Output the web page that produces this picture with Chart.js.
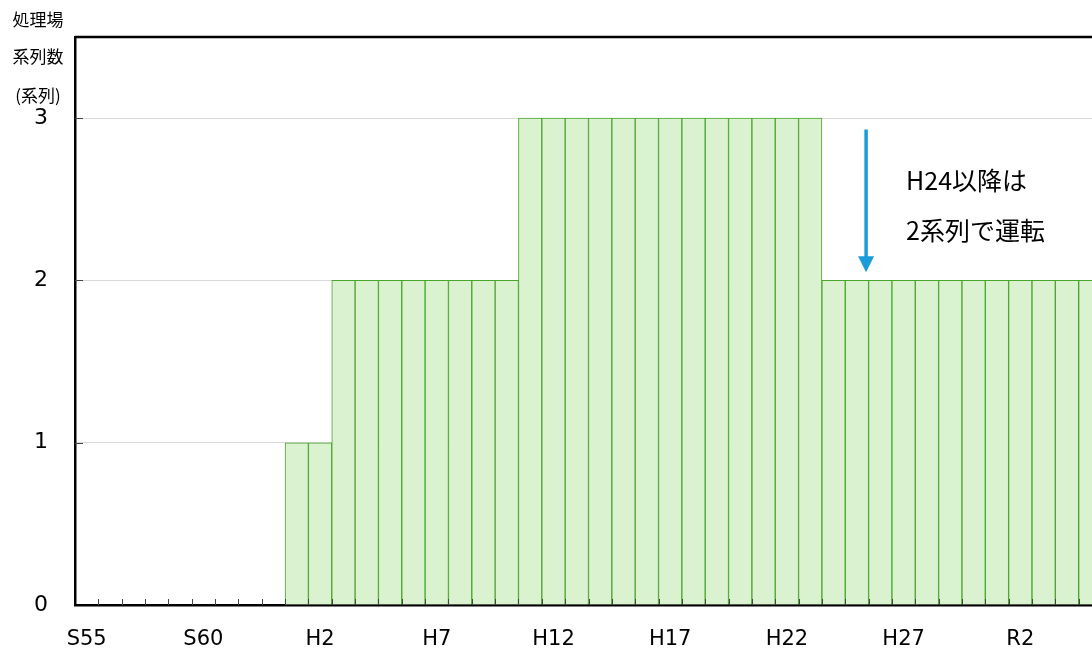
<!DOCTYPE html>
<html>
<head>
<meta charset="utf-8">
<script src="https://cdn.jsdelivr.net/npm/chart.js@4/dist/chart.umd.min.js"></script>
<style>
  html, body { margin: 0; padding: 0; background: #fff; overflow: hidden; }
  #wrap { width: 1103px; height: 648px; }
</style>
</head>
<body>
<div id="wrap"><canvas id="chart" width="1103" height="648"></canvas></div>
<script>
// fiscal years S55 (1980) .. R5
const categories = [
    'S55', 'S56', 'S57', 'S58', 'S59', 'S60', 'S61', 'S62', 'S63',
    'H1', 'H2', 'H3', 'H4', 'H5', 'H6', 'H7', 'H8', 'H9', 'H10',
    'H11', 'H12', 'H13', 'H14', 'H15', 'H16', 'H17', 'H18', 'H19', 'H20',
    'H21', 'H22', 'H23', 'H24', 'H25', 'H26', 'H27', 'H28', 'H29', 'H30',
    'R1', 'R2', 'R3', 'R4', 'R5'
];
// number of treatment trains in operation
const trains = [
    0, 0, 0, 0, 0, 0, 0, 0, 0,
    1, 1, 2, 2, 2, 2, 2, 2, 2, 2,
    3, 3, 3, 3, 3, 3, 3, 3, 3, 3,
    3, 3, 3, 2, 2, 2, 2, 2, 2, 2,
    2, 2, 2, 2, 2
];
const xTickLabels = ['S55', 'S60', 'H2', 'H7', 'H12', 'H17', 'H22', 'H27', 'R2'];
const yTickValues = [0, 1, 2, 3];
const yTitle = ['処理場', '系列数', '(系列)'];
const note = ['H24以降は', '2系列で運転'];

const jp = '"Noto Sans CJK JP", "Noto Sans", sans-serif';
const latin = '"DejaVu Sans", Verdana, sans-serif';

const decorations = {
    id: 'decorations',
    afterDatasetsDraw(chart) {
        const { ctx, chartArea: a, scales: { x, y } } = chart;
        ctx.save();

        // short inner tick marks
        ctx.strokeStyle = '#444';
        ctx.lineWidth = 1;
        ctx.beginPath();
        for (let i = 1; i < categories.length; i++) {
            const px = Math.round((x.getPixelForValue(i - 1) + x.getPixelForValue(i)) / 2) + 0.5;
            ctx.moveTo(px, a.bottom);
            ctx.lineTo(px, a.bottom - 6);
        }
        yTickValues.filter(v => v > 0).forEach(v => {
            const py = Math.round(y.getPixelForValue(v)) + 0.5;
            ctx.moveTo(a.left, py);
            ctx.lineTo(a.left + 8, py);
        });
        ctx.stroke();

        // top / right frame
        ctx.strokeStyle = '#000';
        ctx.lineWidth = 2.5;
        ctx.beginPath();
        ctx.moveTo(a.left, a.top);
        ctx.lineTo(a.right, a.top);
        ctx.lineTo(a.right, a.bottom);
        ctx.stroke();

        // arrow just left of the H25/H26 boundary
        const i25 = categories.indexOf('H25');
        const ax = (x.getPixelForValue(i25) + x.getPixelForValue(i25 + 1)) / 2 - 2.5;
        const top = y.getPixelForValue(2.93);
        const tip = y.getPixelForValue(2.05);
        ctx.strokeStyle = '#1a9cd8';
        ctx.fillStyle = '#1a9cd8';
        ctx.lineWidth = 3.5;
        ctx.beginPath();
        ctx.moveTo(ax, top);
        ctx.lineTo(ax, tip - 12);
        ctx.stroke();
        ctx.beginPath();
        ctx.moveTo(ax - 8, tip - 16);
        ctx.lineTo(ax + 8, tip - 16);
        ctx.lineTo(ax, tip);
        ctx.closePath();
        ctx.fill();

        // note
        ctx.fillStyle = '#000';
        ctx.font = '25px ' + jp;
        ctx.textAlign = 'left';
        ctx.textBaseline = 'middle';
        ctx.fillText(note[0], ax + 40, y.getPixelForValue(2.615));
        ctx.fillText(note[1], ax + 40, y.getPixelForValue(2.305));

        ctx.restore();
    },
    afterDraw(chart) {
        const { ctx } = chart;
        ctx.save();
        ctx.fillStyle = '#000';
        ctx.font = '17px ' + jp;
        ctx.textAlign = 'center';
        ctx.textBaseline = 'middle';
        [20, 57, 96].forEach((py, i) => ctx.fillText(yTitle[i], 38, py));
        ctx.restore();
    }
};

new Chart(document.getElementById('chart').getContext('2d'), {
    type: 'bar',
    data: {
        labels: categories,
        datasets: [{
            data: trains,
            backgroundColor: '#daf2d0',
            borderColor: '#4aa52c',
            borderWidth: 1,
            barPercentage: 1,
            categoryPercentage: 1
        }]
    },
    options: {
        responsive: false,
        animation: false,
        layout: { padding: { top: 37, right: 1, left: 0, bottom: 0 } },
        plugins: { legend: { display: false }, tooltip: { enabled: false } },
        scales: {
            x: {
                offset: true,
                grid: { display: false },
                border: { display: true, color: '#000', width: 2.5 },
                ticks: {
                    autoSkip: false,
                    maxRotation: 0,
                    padding: 14,
                    color: '#000',
                    font: { family: latin, size: 21 },
                    callback: (v, i) => xTickLabels.includes(categories[i]) ? categories[i] : ''
                },
                afterFit: s => { s.height = 43; s.paddingLeft = 0; s.paddingRight = 0; }
            },
            y: {
                min: 0,
                max: 3.5,
                afterBuildTicks: s => { s.ticks = yTickValues.map(v => ({ value: v })); },
                grid: { color: '#d9d9d9', drawTicks: false },
                border: { display: true, color: '#000', width: 2.5 },
                ticks: {
                    padding: 27,
                    color: '#000',
                    font: { family: latin, size: 22 }
                },
                afterFit: s => { s.width = 75; s.paddingTop = 0; s.paddingBottom = 0; }
            }
        }
    },
    plugins: [decorations]
});
</script>
</body>
</html>
